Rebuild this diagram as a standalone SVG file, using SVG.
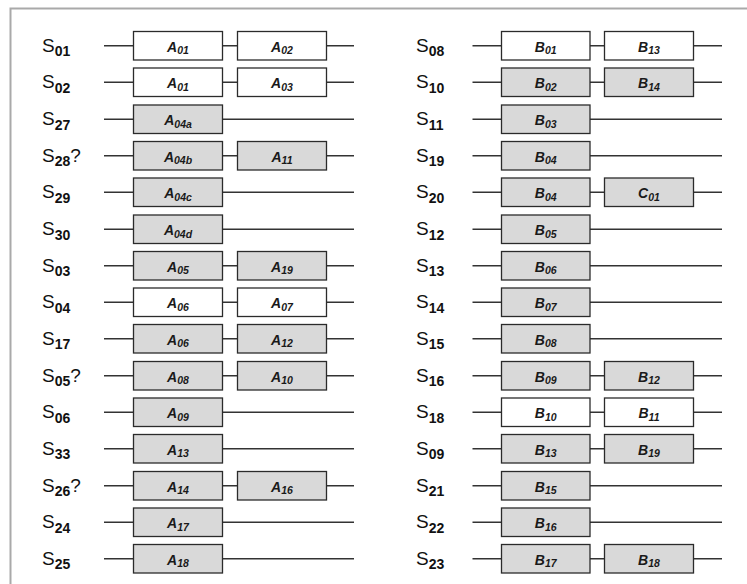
<svg xmlns="http://www.w3.org/2000/svg" width="747" height="584" viewBox="0 0 747 584">
  <style>
    .frame { fill: none; stroke: #a9a9a9; stroke-width: 2; }
    .conn line { stroke: #333; stroke-width: 1.3; }
    .node rect { stroke: #2b2b2b; stroke-width: 1.3; }
    .node rect.w { fill: #ffffff; }
    .node rect.g { fill: #d9d9d9; }
    .node text { font-family: "Liberation Sans", Arial, sans-serif; font-size: 14px; font-weight: bold; font-style: italic; fill: #1a1a1a; text-anchor: middle; }
    .node text .s { font-size: 10.5px; }
    .lbl text { font-family: "Liberation Sans", Arial, sans-serif; font-size: 19px; fill: #111; }
    .lbl text .s { font-size: 14px; font-weight: bold; }
  </style>

  <!-- outer frame (top and left edges) -->
  <path class="frame" d="M10.5,584 V8.5 H747"/>

  <!-- row connectors -->
  <g id="connectors" class="conn">
    <line x1="104" y1="45.75" x2="354" y2="45.75"/>
    <line x1="104" y1="82.25" x2="354" y2="82.25"/>
    <line x1="104" y1="119.25" x2="354" y2="119.25"/>
    <line x1="104" y1="155.75" x2="354" y2="155.75"/>
    <line x1="104" y1="192.25" x2="354" y2="192.25"/>
    <line x1="104" y1="229.25" x2="354" y2="229.25"/>
    <line x1="104" y1="265.75" x2="354" y2="265.75"/>
    <line x1="104" y1="302.25" x2="354" y2="302.25"/>
    <line x1="104" y1="338.75" x2="354" y2="338.75"/>
    <line x1="104" y1="375.75" x2="354" y2="375.75"/>
    <line x1="104" y1="412.25" x2="354" y2="412.25"/>
    <line x1="104" y1="448.75" x2="354" y2="448.75"/>
    <line x1="104" y1="485.75" x2="354" y2="485.75"/>
    <line x1="104" y1="522.25" x2="354" y2="522.25"/>
    <line x1="104" y1="558.75" x2="354" y2="558.75"/>

    <line x1="472.5" y1="45.75" x2="722" y2="45.75"/>
    <line x1="472.5" y1="82.25" x2="722" y2="82.25"/>
    <line x1="472.5" y1="119.25" x2="722" y2="119.25"/>
    <line x1="472.5" y1="155.75" x2="722" y2="155.75"/>
    <line x1="472.5" y1="192.25" x2="722" y2="192.25"/>
    <line x1="472.5" y1="229.25" x2="722" y2="229.25"/>
    <line x1="472.5" y1="265.75" x2="722" y2="265.75"/>
    <line x1="472.5" y1="302.25" x2="722" y2="302.25"/>
    <line x1="472.5" y1="338.75" x2="722" y2="338.75"/>
    <line x1="472.5" y1="375.75" x2="722" y2="375.75"/>
    <line x1="472.5" y1="412.25" x2="722" y2="412.25"/>
    <line x1="472.5" y1="448.75" x2="722" y2="448.75"/>
    <line x1="472.5" y1="485.75" x2="722" y2="485.75"/>
    <line x1="472.5" y1="522.25" x2="722" y2="522.25"/>
    <line x1="472.5" y1="558.75" x2="722" y2="558.75"/>
  </g>

  <!-- row labels -->
  <g id="labels" class="lbl">
    <text x="42" y="51.8">S<tspan class="s" dy="4.5">01</tspan></text>
    <text x="42" y="88.3">S<tspan class="s" dy="4.5">02</tspan></text>
    <text x="42" y="125.3">S<tspan class="s" dy="4.5">27</tspan></text>
    <text x="42" y="161.8">S<tspan class="s" dy="4.5">28</tspan><tspan dy="-4.5">?</tspan></text>
    <text x="42" y="198.3">S<tspan class="s" dy="4.5">29</tspan></text>
    <text x="42" y="235.3">S<tspan class="s" dy="4.5">30</tspan></text>
    <text x="42" y="271.8">S<tspan class="s" dy="4.5">03</tspan></text>
    <text x="42" y="308.3">S<tspan class="s" dy="4.5">04</tspan></text>
    <text x="42" y="344.8">S<tspan class="s" dy="4.5">17</tspan></text>
    <text x="42" y="381.8">S<tspan class="s" dy="4.5">05</tspan><tspan dy="-4.5">?</tspan></text>
    <text x="42" y="418.3">S<tspan class="s" dy="4.5">06</tspan></text>
    <text x="42" y="454.8">S<tspan class="s" dy="4.5">33</tspan></text>
    <text x="42" y="491.8">S<tspan class="s" dy="4.5">26</tspan><tspan dy="-4.5">?</tspan></text>
    <text x="42" y="528.3">S<tspan class="s" dy="4.5">24</tspan></text>
    <text x="42" y="564.8">S<tspan class="s" dy="4.5">25</tspan></text>

    <text x="416" y="51.8">S<tspan class="s" dy="4.5">08</tspan></text>
    <text x="416" y="88.3">S<tspan class="s" dy="4.5">10</tspan></text>
    <text x="416" y="125.3">S<tspan class="s" dy="4.5">11</tspan></text>
    <text x="416" y="161.8">S<tspan class="s" dy="4.5">19</tspan></text>
    <text x="416" y="198.3">S<tspan class="s" dy="4.5">20</tspan></text>
    <text x="416" y="235.3">S<tspan class="s" dy="4.5">12</tspan></text>
    <text x="416" y="271.8">S<tspan class="s" dy="4.5">13</tspan></text>
    <text x="416" y="308.3">S<tspan class="s" dy="4.5">14</tspan></text>
    <text x="416" y="344.8">S<tspan class="s" dy="4.5">15</tspan></text>
    <text x="416" y="381.8">S<tspan class="s" dy="4.5">16</tspan></text>
    <text x="416" y="418.3">S<tspan class="s" dy="4.5">18</tspan></text>
    <text x="416" y="454.8">S<tspan class="s" dy="4.5">09</tspan></text>
    <text x="416" y="491.8">S<tspan class="s" dy="4.5">21</tspan></text>
    <text x="416" y="528.3">S<tspan class="s" dy="4.5">22</tspan></text>
    <text x="416" y="564.8">S<tspan class="s" dy="4.5">23</tspan></text>
  </g>

  <!-- left column nodes -->
  <g id="s01-a01" class="node" transform="translate(133.5,31.5)"><rect class="w" width="89" height="28.5"/><text x="44.5" y="20.3">A<tspan class="s" dy="2.5">01</tspan></text></g>
  <g id="s01-a02" class="node" transform="translate(237.5,31.5)"><rect class="w" width="89" height="28.5"/><text x="44.5" y="20.3">A<tspan class="s" dy="2.5">02</tspan></text></g>
  <g id="s02-a01" class="node" transform="translate(133.5,68)"><rect class="w" width="89" height="28.5"/><text x="44.5" y="20.3">A<tspan class="s" dy="2.5">01</tspan></text></g>
  <g id="s02-a03" class="node" transform="translate(237.5,68)"><rect class="w" width="89" height="28.5"/><text x="44.5" y="20.3">A<tspan class="s" dy="2.5">03</tspan></text></g>
  <g id="s27-a04a" class="node" transform="translate(133.5,105)"><rect class="g" width="89" height="28.5"/><text x="44.5" y="20.3">A<tspan class="s" dy="2.5">04a</tspan></text></g>
  <g id="s28-a04b" class="node" transform="translate(133.5,141.5)"><rect class="g" width="89" height="28.5"/><text x="44.5" y="20.3">A<tspan class="s" dy="2.5">04b</tspan></text></g>
  <g id="s28-a11" class="node" transform="translate(237.5,141.5)"><rect class="g" width="89" height="28.5"/><text x="44.5" y="20.3">A<tspan class="s" dy="2.5">11</tspan></text></g>
  <g id="s29-a04c" class="node" transform="translate(133.5,178)"><rect class="g" width="89" height="28.5"/><text x="44.5" y="20.3">A<tspan class="s" dy="2.5">04c</tspan></text></g>
  <g id="s30-a04d" class="node" transform="translate(133.5,215)"><rect class="g" width="89" height="28.5"/><text x="44.5" y="20.3">A<tspan class="s" dy="2.5">04d</tspan></text></g>
  <g id="s03-a05" class="node" transform="translate(133.5,251.5)"><rect class="g" width="89" height="28.5"/><text x="44.5" y="20.3">A<tspan class="s" dy="2.5">05</tspan></text></g>
  <g id="s03-a19" class="node" transform="translate(237.5,251.5)"><rect class="g" width="89" height="28.5"/><text x="44.5" y="20.3">A<tspan class="s" dy="2.5">19</tspan></text></g>
  <g id="s04-a06" class="node" transform="translate(133.5,288)"><rect class="w" width="89" height="28.5"/><text x="44.5" y="20.3">A<tspan class="s" dy="2.5">06</tspan></text></g>
  <g id="s04-a07" class="node" transform="translate(237.5,288)"><rect class="w" width="89" height="28.5"/><text x="44.5" y="20.3">A<tspan class="s" dy="2.5">07</tspan></text></g>
  <g id="s17-a06" class="node" transform="translate(133.5,324.5)"><rect class="g" width="89" height="28.5"/><text x="44.5" y="20.3">A<tspan class="s" dy="2.5">06</tspan></text></g>
  <g id="s17-a12" class="node" transform="translate(237.5,324.5)"><rect class="g" width="89" height="28.5"/><text x="44.5" y="20.3">A<tspan class="s" dy="2.5">12</tspan></text></g>
  <g id="s05-a08" class="node" transform="translate(133.5,361.5)"><rect class="g" width="89" height="28.5"/><text x="44.5" y="20.3">A<tspan class="s" dy="2.5">08</tspan></text></g>
  <g id="s05-a10" class="node" transform="translate(237.5,361.5)"><rect class="g" width="89" height="28.5"/><text x="44.5" y="20.3">A<tspan class="s" dy="2.5">10</tspan></text></g>
  <g id="s06-a09" class="node" transform="translate(133.5,398)"><rect class="g" width="89" height="28.5"/><text x="44.5" y="20.3">A<tspan class="s" dy="2.5">09</tspan></text></g>
  <g id="s33-a13" class="node" transform="translate(133.5,434.5)"><rect class="g" width="89" height="28.5"/><text x="44.5" y="20.3">A<tspan class="s" dy="2.5">13</tspan></text></g>
  <g id="s26-a14" class="node" transform="translate(133.5,471.5)"><rect class="g" width="89" height="28.5"/><text x="44.5" y="20.3">A<tspan class="s" dy="2.5">14</tspan></text></g>
  <g id="s26-a16" class="node" transform="translate(237.5,471.5)"><rect class="g" width="89" height="28.5"/><text x="44.5" y="20.3">A<tspan class="s" dy="2.5">16</tspan></text></g>
  <g id="s24-a17" class="node" transform="translate(133.5,508)"><rect class="g" width="89" height="28.5"/><text x="44.5" y="20.3">A<tspan class="s" dy="2.5">17</tspan></text></g>
  <g id="s25-a18" class="node" transform="translate(133.5,544.5)"><rect class="g" width="89" height="28.5"/><text x="44.5" y="20.3">A<tspan class="s" dy="2.5">18</tspan></text></g>

  <!-- right column nodes -->
  <g id="s08-b01" class="node" transform="translate(501.5,31.5)"><rect class="w" width="88.5" height="28.5"/><text x="44.25" y="20.3">B<tspan class="s" dy="2.5">01</tspan></text></g>
  <g id="s08-b13" class="node" transform="translate(604.5,31.5)"><rect class="w" width="89" height="28.5"/><text x="44.5" y="20.3">B<tspan class="s" dy="2.5">13</tspan></text></g>
  <g id="s10-b02" class="node" transform="translate(501.5,68)"><rect class="g" width="88.5" height="28.5"/><text x="44.25" y="20.3">B<tspan class="s" dy="2.5">02</tspan></text></g>
  <g id="s10-b14" class="node" transform="translate(604.5,68)"><rect class="g" width="89" height="28.5"/><text x="44.5" y="20.3">B<tspan class="s" dy="2.5">14</tspan></text></g>
  <g id="s11-b03" class="node" transform="translate(501.5,105)"><rect class="g" width="88.5" height="28.5"/><text x="44.25" y="20.3">B<tspan class="s" dy="2.5">03</tspan></text></g>
  <g id="s19-b04" class="node" transform="translate(501.5,141.5)"><rect class="g" width="88.5" height="28.5"/><text x="44.25" y="20.3">B<tspan class="s" dy="2.5">04</tspan></text></g>
  <g id="s20-b04" class="node" transform="translate(501.5,178)"><rect class="g" width="88.5" height="28.5"/><text x="44.25" y="20.3">B<tspan class="s" dy="2.5">04</tspan></text></g>
  <g id="s20-c01" class="node" transform="translate(604.5,178)"><rect class="g" width="89" height="28.5"/><text x="44.5" y="20.3">C<tspan class="s" dy="2.5">01</tspan></text></g>
  <g id="s12-b05" class="node" transform="translate(501.5,215)"><rect class="g" width="88.5" height="28.5"/><text x="44.25" y="20.3">B<tspan class="s" dy="2.5">05</tspan></text></g>
  <g id="s13-b06" class="node" transform="translate(501.5,251.5)"><rect class="g" width="88.5" height="28.5"/><text x="44.25" y="20.3">B<tspan class="s" dy="2.5">06</tspan></text></g>
  <g id="s14-b07" class="node" transform="translate(501.5,288)"><rect class="g" width="88.5" height="28.5"/><text x="44.25" y="20.3">B<tspan class="s" dy="2.5">07</tspan></text></g>
  <g id="s15-b08" class="node" transform="translate(501.5,324.5)"><rect class="g" width="88.5" height="28.5"/><text x="44.25" y="20.3">B<tspan class="s" dy="2.5">08</tspan></text></g>
  <g id="s16-b09" class="node" transform="translate(501.5,361.5)"><rect class="g" width="88.5" height="28.5"/><text x="44.25" y="20.3">B<tspan class="s" dy="2.5">09</tspan></text></g>
  <g id="s16-b12" class="node" transform="translate(604.5,361.5)"><rect class="g" width="89" height="28.5"/><text x="44.5" y="20.3">B<tspan class="s" dy="2.5">12</tspan></text></g>
  <g id="s18-b10" class="node" transform="translate(501.5,398)"><rect class="w" width="88.5" height="28.5"/><text x="44.25" y="20.3">B<tspan class="s" dy="2.5">10</tspan></text></g>
  <g id="s18-b11" class="node" transform="translate(604.5,398)"><rect class="w" width="89" height="28.5"/><text x="44.5" y="20.3">B<tspan class="s" dy="2.5">11</tspan></text></g>
  <g id="s09-b13" class="node" transform="translate(501.5,434.5)"><rect class="g" width="88.5" height="28.5"/><text x="44.25" y="20.3">B<tspan class="s" dy="2.5">13</tspan></text></g>
  <g id="s09-b19" class="node" transform="translate(604.5,434.5)"><rect class="g" width="89" height="28.5"/><text x="44.5" y="20.3">B<tspan class="s" dy="2.5">19</tspan></text></g>
  <g id="s21-b15" class="node" transform="translate(501.5,471.5)"><rect class="g" width="88.5" height="28.5"/><text x="44.25" y="20.3">B<tspan class="s" dy="2.5">15</tspan></text></g>
  <g id="s22-b16" class="node" transform="translate(501.5,508)"><rect class="g" width="88.5" height="28.5"/><text x="44.25" y="20.3">B<tspan class="s" dy="2.5">16</tspan></text></g>
  <g id="s23-b17" class="node" transform="translate(501.5,544.5)"><rect class="g" width="88.5" height="28.5"/><text x="44.25" y="20.3">B<tspan class="s" dy="2.5">17</tspan></text></g>
  <g id="s23-b18" class="node" transform="translate(604.5,544.5)"><rect class="g" width="89" height="28.5"/><text x="44.5" y="20.3">B<tspan class="s" dy="2.5">18</tspan></text></g>
</svg>
